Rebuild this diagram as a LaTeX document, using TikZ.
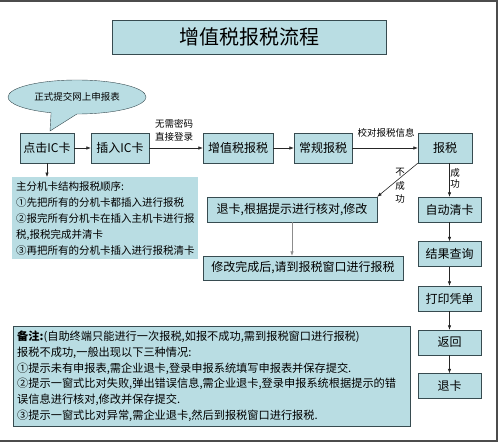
\documentclass[tikz,border=0pt]{standalone}
\usepackage{fontspec}
\setmainfont{Noto Sans CJK SC}
\usetikzlibrary{shapes.callouts,arrows.meta}
\definecolor{qlan}{RGB}{185,221,227}
\definecolor{bian}{RGB}{55,75,80}

\begin{document}
\begin{tikzpicture}[x=1pt,y=-1pt,
      box/.style={draw=bian,fill=qlan,inner sep=0pt,minimum height=30pt,
        font=\fontsize{12}{14}\selectfont},
      note/.style={fill=qlan,inner sep=4pt,align=left,anchor=north west},
      arr/.style={-{Latex[length=4.5pt,width=3.5pt]},black!85,line width=0.6pt},
      lab/.style={font=\fontsize{9.5}{13}\selectfont,align=center,inner sep=0pt}]
      \useasboundingbox (0,0) rectangle (500,444);
      \draw[black!70,line width=1.5pt] (0,1) -- (497,1) -- (497,441) -- (0,441);

      \node[box,minimum width=274pt,minimum height=34pt,
        font=\fontsize{20}{24}\selectfont] (T) at (249,37) {增值税报税流程};
      \node[ellipse callout,draw=bian,fill=qlan,minimum width=138pt,
        minimum height=34pt,inner sep=0pt,callout pointer arc=22,
        callout absolute pointer={(50,131)},
        font=\fontsize{9.5}{12}\selectfont] (C) at (77,97) {正式提交网上申报表};

      % top row
      \node[box,minimum width=54pt] (D1) at (47,148) {点击IC卡};
      \node[box,minimum width=58pt] (D2) at (120,148) {插入IC卡};
      \node[box,minimum width=70pt] (D3) at (238,148) {增值税报税};
      \node[box,minimum width=58pt] (D4) at (323,148) {常规报税};
      \node[box,minimum width=54pt] (D5) at (445,148) {报税};

      % failure branch
      \node[box,minimum width=170pt,minimum height=25pt] (F1) at (292,209.5)
        {退卡,根据提示进行核对,修改};
      \node[box,minimum width=200pt,minimum height=24pt] (F2) at (303,268)
        {修改完成后,请到报税窗口进行报税};

      % success branch
      \node[box,minimum width=63pt,minimum height=25pt] (S1) at (449.5,209.5) {自动清卡};
      \node[box,minimum width=63pt,minimum height=25pt] (S2) at (449.5,254) {结果查询};
      \node[box,minimum width=63pt,minimum height=25pt] (S3) at (449.5,298.5) {打印凭单};
      \node[box,minimum width=63pt,minimum height=25pt] (S4) at (449.5,342.5) {返回};
      \node[box,minimum width=63pt,minimum height=25pt] (S5) at (449.5,386) {退卡};

      % notes
      \node[note,text width=178pt,minimum height=80pt,
        font=\fontsize{10.5}{16}\selectfont] (N1) at (12,177)
        {主分机卡结构报税顺序:\\
         ①先把所有的分机卡都插入进行报税\\
         ②报完所有分机卡在插入主机卡进行报\\
         税,报税完成并清卡\\
         ③再把所有的分机卡插入进行报税清卡};
      \node[note,draw=bian,text width=389pt,minimum height=100pt,
        font=\fontsize{11.2}{15.8}\selectfont] (N2) at (13,326)
        {\textbf{备注:}(自助终端只能进行一次报税,如报不成功,需到报税窗口进行报税)\\
         报税不成功,一般出现以下三种情况:\\
         ①提示未有申报表,需企业退卡,登录申报系统填写申报表并保存提交.\\
         ②提示一窗式比对失败,弹出错误信息,需企业退卡,登录申报系统根据提示的错\\
         误信息进行核对,修改并保存提交.\\
         ③提示一窗式比对异常,需企业退卡,然后到报税窗口进行报税.};

      \node[lab] (L1) at (174,130) {无需密码\\直接登录};
      \node[lab] (L2) at (386,133) {校对报税信息};
      \node[lab,font=\fontsize{9.5}{13.5}\selectfont] (L3) at (400,186) {不\\成\\功};
      \node[lab,font=\fontsize{9.5}{11}\selectfont] (L4) at (455,178) {成\\功};

      \draw[arr] (D1) -- (D2);
      \draw[arr] (D2) -- (D3);
      \draw[arr] (D3) -- (D4);
      \draw[arr] (D4) -- (D5);
      \draw[arr] (D1.south) -- (D1.south |- N1.north);
      \draw[arr] (D5.south west) -- (F1.north east);
      \draw[arr,black!45] (F1.south) -- (F1.south |- F2.north);
      \draw[arr] (S1.north |- D5.south) -- (S1.north);
      \draw[arr] (S1) -- (S2);
      \draw[arr] (S2) -- (S3);
      \draw[arr] (S3) -- (S4);
      \draw[arr] (S4) -- (S5);
    \end{tikzpicture}
\end{document}
